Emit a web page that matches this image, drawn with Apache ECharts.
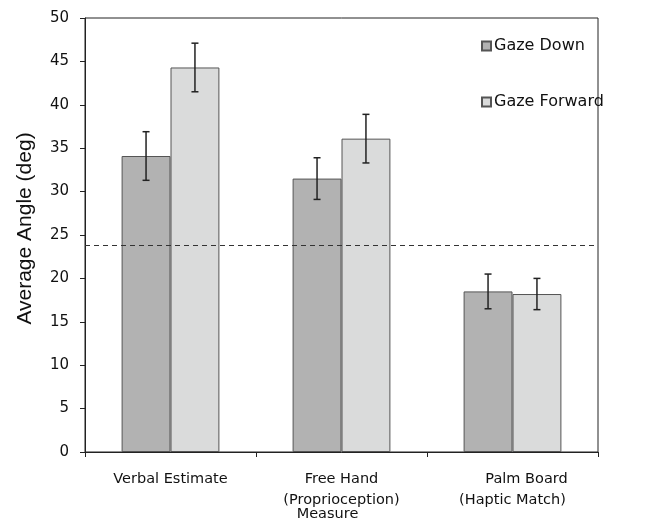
<!DOCTYPE html>
<html>
<head>
<meta charset="utf-8">
<script src="https://cdn.jsdelivr.net/npm/echarts@6/dist/echarts.min.js"></script>
<style>
  html, body { margin: 0; padding: 0; background: #fff; }
  #chart { width: 664px; height: 519px; }
</style>
</head>
<body>
<div id="chart"></div>
<script>
// Measurement methods along the x axis
const categories = ['Verbal Estimate', 'Free Hand (Proprioception) Measure', 'Palm Board (Haptic Match)'];

// Mean judged angle (deg) and error bar half-widths per gaze condition
const gazeDown = [34.1, 31.5, 18.5];
const gazeDownErr = [2.8, 2.4, 2.0];
const gazeForward = [44.3, 36.1, 18.2];
const gazeForwardErr = [2.8, 2.8, 1.8];

// Actual slant of the surface (dashed reference line)
const referenceAngle = 23.8;

// Y axis range and step
const yTicks = { min: 0, max: 50, step: 5 };

const BAR_RATIO = 0.286;
const FONT_SANS = '"DejaVu Sans", Verdana, sans-serif';

function errorBars(values, errors, side) {
  return {
    type: 'custom',
    z: 5,
    silent: true,
    data: values.map((v, i) => [i, v, errors[i]]),
    renderItem: function (params, api) {
      const idx = api.value(0);
      const band = api.size([1, 0])[0];
      const bw = band * BAR_RATIO;
      const x = api.coord([idx, 0])[0] + side * bw / 2;
      const hi = api.coord([idx, api.value(1) + api.value(2)])[1];
      const lo = api.coord([idx, api.value(1) - api.value(2)])[1];
      const cap = 3.5;
      const style = { stroke: '#222', lineWidth: 1.5 };
      return {
        type: 'group',
        children: [
          { type: 'line', shape: { x1: x, y1: hi, x2: x, y2: lo }, style },
          { type: 'line', shape: { x1: x - cap, y1: hi, x2: x + cap, y2: hi }, style },
          { type: 'line', shape: { x1: x - cap, y1: lo, x2: x + cap, y2: lo }, style }
        ]
      };
    }
  };
}

const chart = echarts.init(document.getElementById('chart'), null, { renderer: 'canvas' });

chart.setOption({
  animation: false,
  backgroundColor: '#ffffff',
  grid: {
    left: 85, right: 66, top: 18, bottom: 67,
    outerBoundsMode: 'none',
    containLabel: false,
    show: true, borderColor: '#222', borderWidth: 1, backgroundColor: 'transparent'
  },
  legend: {
    orient: 'vertical',
    left: 481,
    top: 38,
    padding: 0,
    itemWidth: 9,
    itemHeight: 9,
    itemGap: 40,
    icon: 'rect',
    textStyle: { fontFamily: FONT_SANS, fontSize: 16, color: '#111', padding: [0, 0, 0, -2] },
    data: ['Gaze Down', 'Gaze Forward']
  },
  xAxis: {
    type: 'category',
    data: categories,
    axisLine: { lineStyle: { color: '#222', width: 1 } },
    axisTick: { show: true, alignWithLabel: false, length: 5, lineStyle: { color: '#222' } },
    axisLabel: {
      interval: 0,
      margin: 12.5,
      color: '#111',
      fontFamily: FONT_SANS,
      fontSize: 14.5,
      formatter: function (val, i) {
        if (i === 0) return '{a|Verbal Estimate}';
        if (i === 1) return '{a|Free Hand}\n{b|(Proprioception)}\n{m|Measure}';
        return '{p|Palm Board}\n{b|(Haptic Match)}';
      },
      rich: {
        a: { fontFamily: FONT_SANS, fontSize: 14.5, color: '#111', lineHeight: 29 },
        p: { fontFamily: FONT_SANS, fontSize: 14.5, color: '#111', lineHeight: 29, padding: [0, 0, 0, 28] },
        b: { fontFamily: FONT_SANS, fontSize: 14.5, color: '#111', lineHeight: 14 },
        m: { fontFamily: FONT_SANS, fontSize: 14.5, color: '#111', lineHeight: 13, padding: [0, 28, 0, 0] }
      }
    }
  },
  yAxis: {
    type: 'value',
    min: yTicks.min,
    max: yTicks.max,
    interval: yTicks.step,
    name: 'Average Angle (deg)',
    nameLocation: 'middle',
    nameGap: 49,
    nameTextStyle: {
      fontFamily: '"Liberation Sans", Arial, sans-serif',
      fontSize: 21,
      color: '#111',
      padding: [0, 0, 0, 13]
    },
    axisLine: { show: true, lineStyle: { color: '#222', width: 1 } },
    axisTick: { show: true, length: 5, lineStyle: { color: '#222' } },
    axisLabel: { margin: 16, color: '#111', fontFamily: FONT_SANS, fontSize: 15 },
    splitLine: { show: false }
  },
  series: [
    {
      name: 'Gaze Down',
      type: 'bar',
      data: gazeDown,
      barWidth: (BAR_RATIO * 100) + '%',
      barGap: '0%',
      itemStyle: { color: '#b2b2b2', borderColor: '#555', borderWidth: 1 },
      markLine: {
        silent: true,
        symbol: 'none',
        label: { show: false },
        lineStyle: { color: '#333', width: 1, type: [5, 4] },
        data: [{ yAxis: referenceAngle }]
      }
    },
    {
      name: 'Gaze Forward',
      type: 'bar',
      data: gazeForward,
      barWidth: (BAR_RATIO * 100) + '%',
      barGap: '0%',
      itemStyle: { color: '#dadbdb', borderColor: '#555', borderWidth: 1 }
    },
    errorBars(gazeDown, gazeDownErr, -1),
    errorBars(gazeForward, gazeForwardErr, 1)
  ]
});
</script>
</body>
</html>
